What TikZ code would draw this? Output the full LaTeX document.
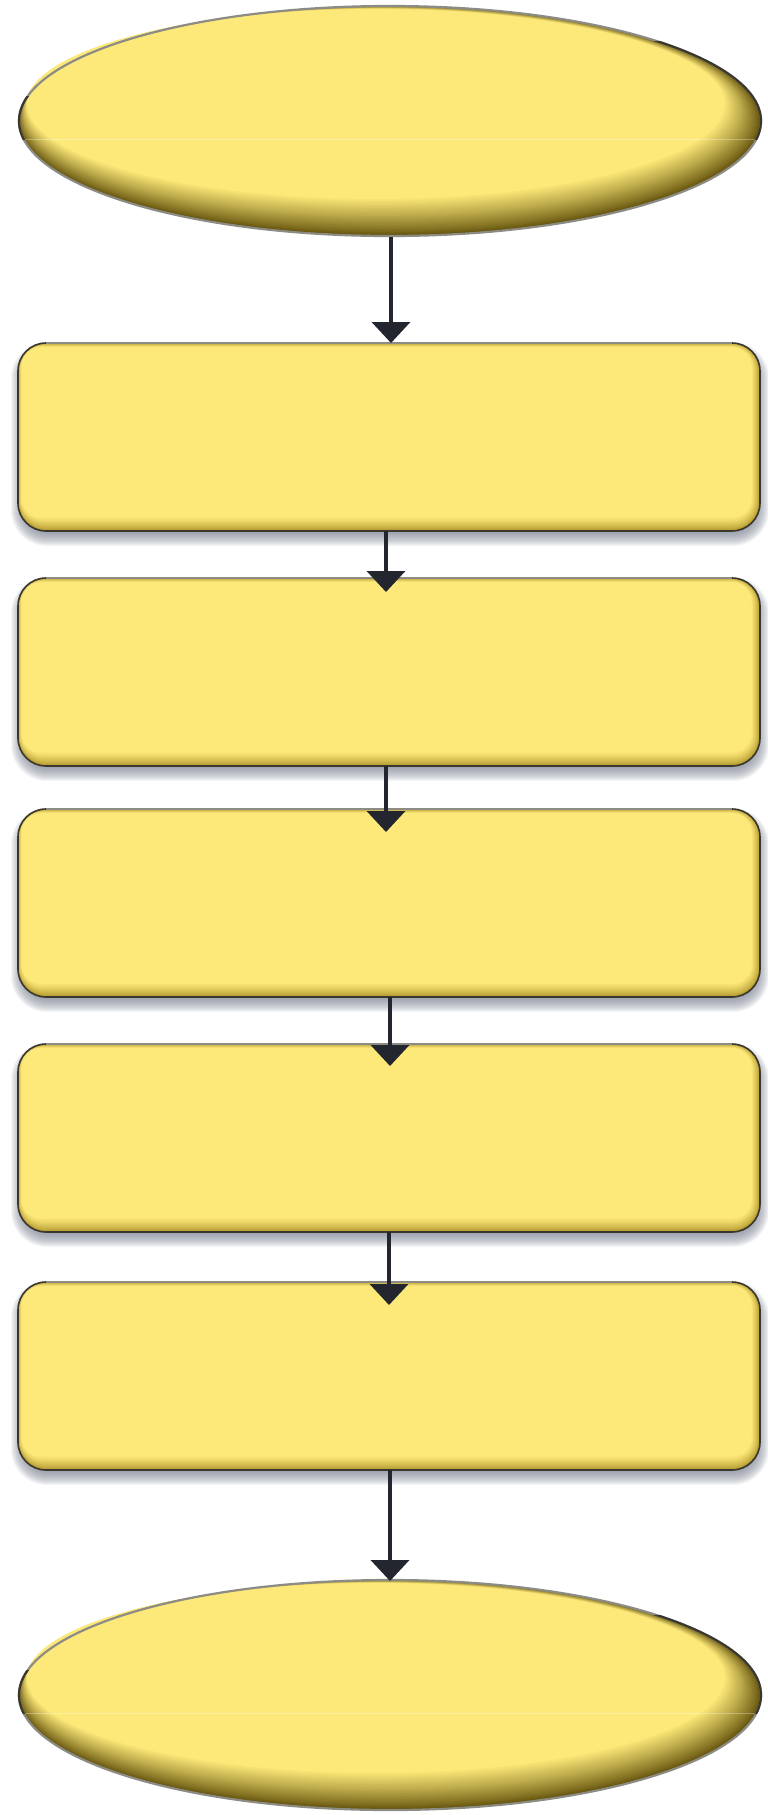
\documentclass[tikz,border=0pt]{standalone}
\usetikzlibrary{shapes.geometric,arrows.meta}
\definecolor{yel}{HTML}{FDE979}
\definecolor{boxdark}{HTML}{AD9228}
\definecolor{elldark}{HTML}{66550E}
\definecolor{arrowcol}{HTML}{23262E}
\definecolor{edgedark}{HTML}{3A382E}
\definecolor{edgegray}{HTML}{8C8B84}
\definecolor{shadowcol}{HTML}{7A8090}
\tikzset{
  boxnode/.style={rectangle, minimum width=742pt, minimum height=188pt, inner sep=0pt, outer sep=0pt, draw=none},
  ellnode/.style={ellipse, minimum width=742pt, minimum height=230pt, inner sep=0pt, outer sep=0pt, draw=none},
  flowarrow/.style={draw=arrowcol, line width=4pt, -{Triangle[width=38pt,length=21pt]}},
}
\newcommand\boxshadow[1]{%
  \foreach \k in {-6,...,8}{%
    \pgfmathsetmacro\rr{28+\k}%
    \fill[shadowcol, opacity=0.075, rounded corners=\rr pt]
      ([shift={(1-\k,7-\k)}]#1.north west) rectangle ([shift={(1+\k,7+\k)}]#1.south east);
  }%
}
\newcommand\boxbevel[1]{%
  \foreach \k in {0,...,14}{%
    \pgfmathtruncatemacro\m{100*(\k/14)^0.7}%
    \pgfmathsetmacro\rr{28-0.6*\k}%
    \fill[yel!\m!boxdark, rounded corners=\rr pt]
      ([shift={(0.25*\k,0.3*\k)}]#1.north west) rectangle ([shift={(-0.6*\k,-0.95*\k)}]#1.south east);
  }%
  \draw[edgedark, line width=1.6pt, rounded corners=28pt] (#1.north west) rectangle (#1.south east);
  \draw[edgegray, line width=1.6pt] ([shift={(28,0)}]#1.north west) -- ([shift={(-28,0)}]#1.north east);
}
\newcommand\ellbevel[1]{%
  \foreach \k in {0,...,20}{%
    \pgfmathtruncatemacro\m{100*(\k/20)^0.85}%
    \pgfmathsetmacro\rx{371-1.1*\k}%
    \pgfmathsetmacro\ry{115-1.0*\k}%
    \fill[yel!\m!elldark] ([shift={(-0.7*\k,-0.85*\k)}]#1.center) ellipse [x radius=\rx pt, y radius=\ry pt];
  }%
  \begin{scope}
    \clip (#1.center) ellipse [x radius=370pt, y radius=114pt];
    \draw[white, opacity=0.3, line width=1pt] ([shift={(-380,18)}]#1.center) -- ([shift={(380,18)}]#1.center);
  \end{scope}
  \draw[edgegray, line width=2.2pt] (#1.center) ellipse [x radius=371pt, y radius=115pt];
  \begin{scope}
    \clip ([shift={(250,-80)}]#1.center) rectangle ([shift={(400,18)}]#1.center);
    \draw[edgedark, line width=2.2pt] (#1.center) ellipse [x radius=371pt, y radius=115pt];
  \end{scope}
  \begin{scope}
    \clip ([shift={(-400,-25)}]#1.center) rectangle ([shift={(-345,18)}]#1.center);
    \draw[edgedark, line width=2.2pt] (#1.center) ellipse [x radius=371pt, y radius=115pt];
  \end{scope}
}
\begin{document}
\begin{tikzpicture}[x=1pt,y=-1pt]
\useasboundingbox[fill=white] (0,0) rectangle (768,1815);

\node[ellnode] (e1) at (390,121) {};
\ellbevel{e1}

\node[boxnode] (b1) at (389,437) {};
\node[boxnode] (b2) at (389,672) {};
\node[boxnode] (b3) at (389,903) {};
\node[boxnode] (b4) at (389,1138) {};
\node[boxnode] (b5) at (389,1376) {};
\foreach \n in {b1,b2,b3,b4,b5}{\boxshadow{\n}}
\foreach \n in {b1,b2,b3,b4,b5}{\boxbevel{\n}}

\node[ellnode] (e2) at (390,1695) {};
\ellbevel{e2}

\draw[flowarrow] ([shift={(1,1)}]e1.south) -- ([shift={(2,0)}]b1.north);
\draw[flowarrow] ([shift={(-3,0)}]b1.south) -- ([shift={(-3,14)}]b2.north);
\draw[flowarrow] ([shift={(-3,0)}]b2.south) -- ([shift={(-3,23)}]b3.north);
\draw[flowarrow] ([shift={(1,0)}]b3.south) -- ([shift={(1,22)}]b4.north);
\draw[flowarrow] ([shift={(0,0)}]b4.south) -- ([shift={(0,23)}]b5.north);
\draw[flowarrow] ([shift={(1,0)}]b5.south) -- ([shift={(0,1)}]e2.north);
\end{tikzpicture}
\end{document}
